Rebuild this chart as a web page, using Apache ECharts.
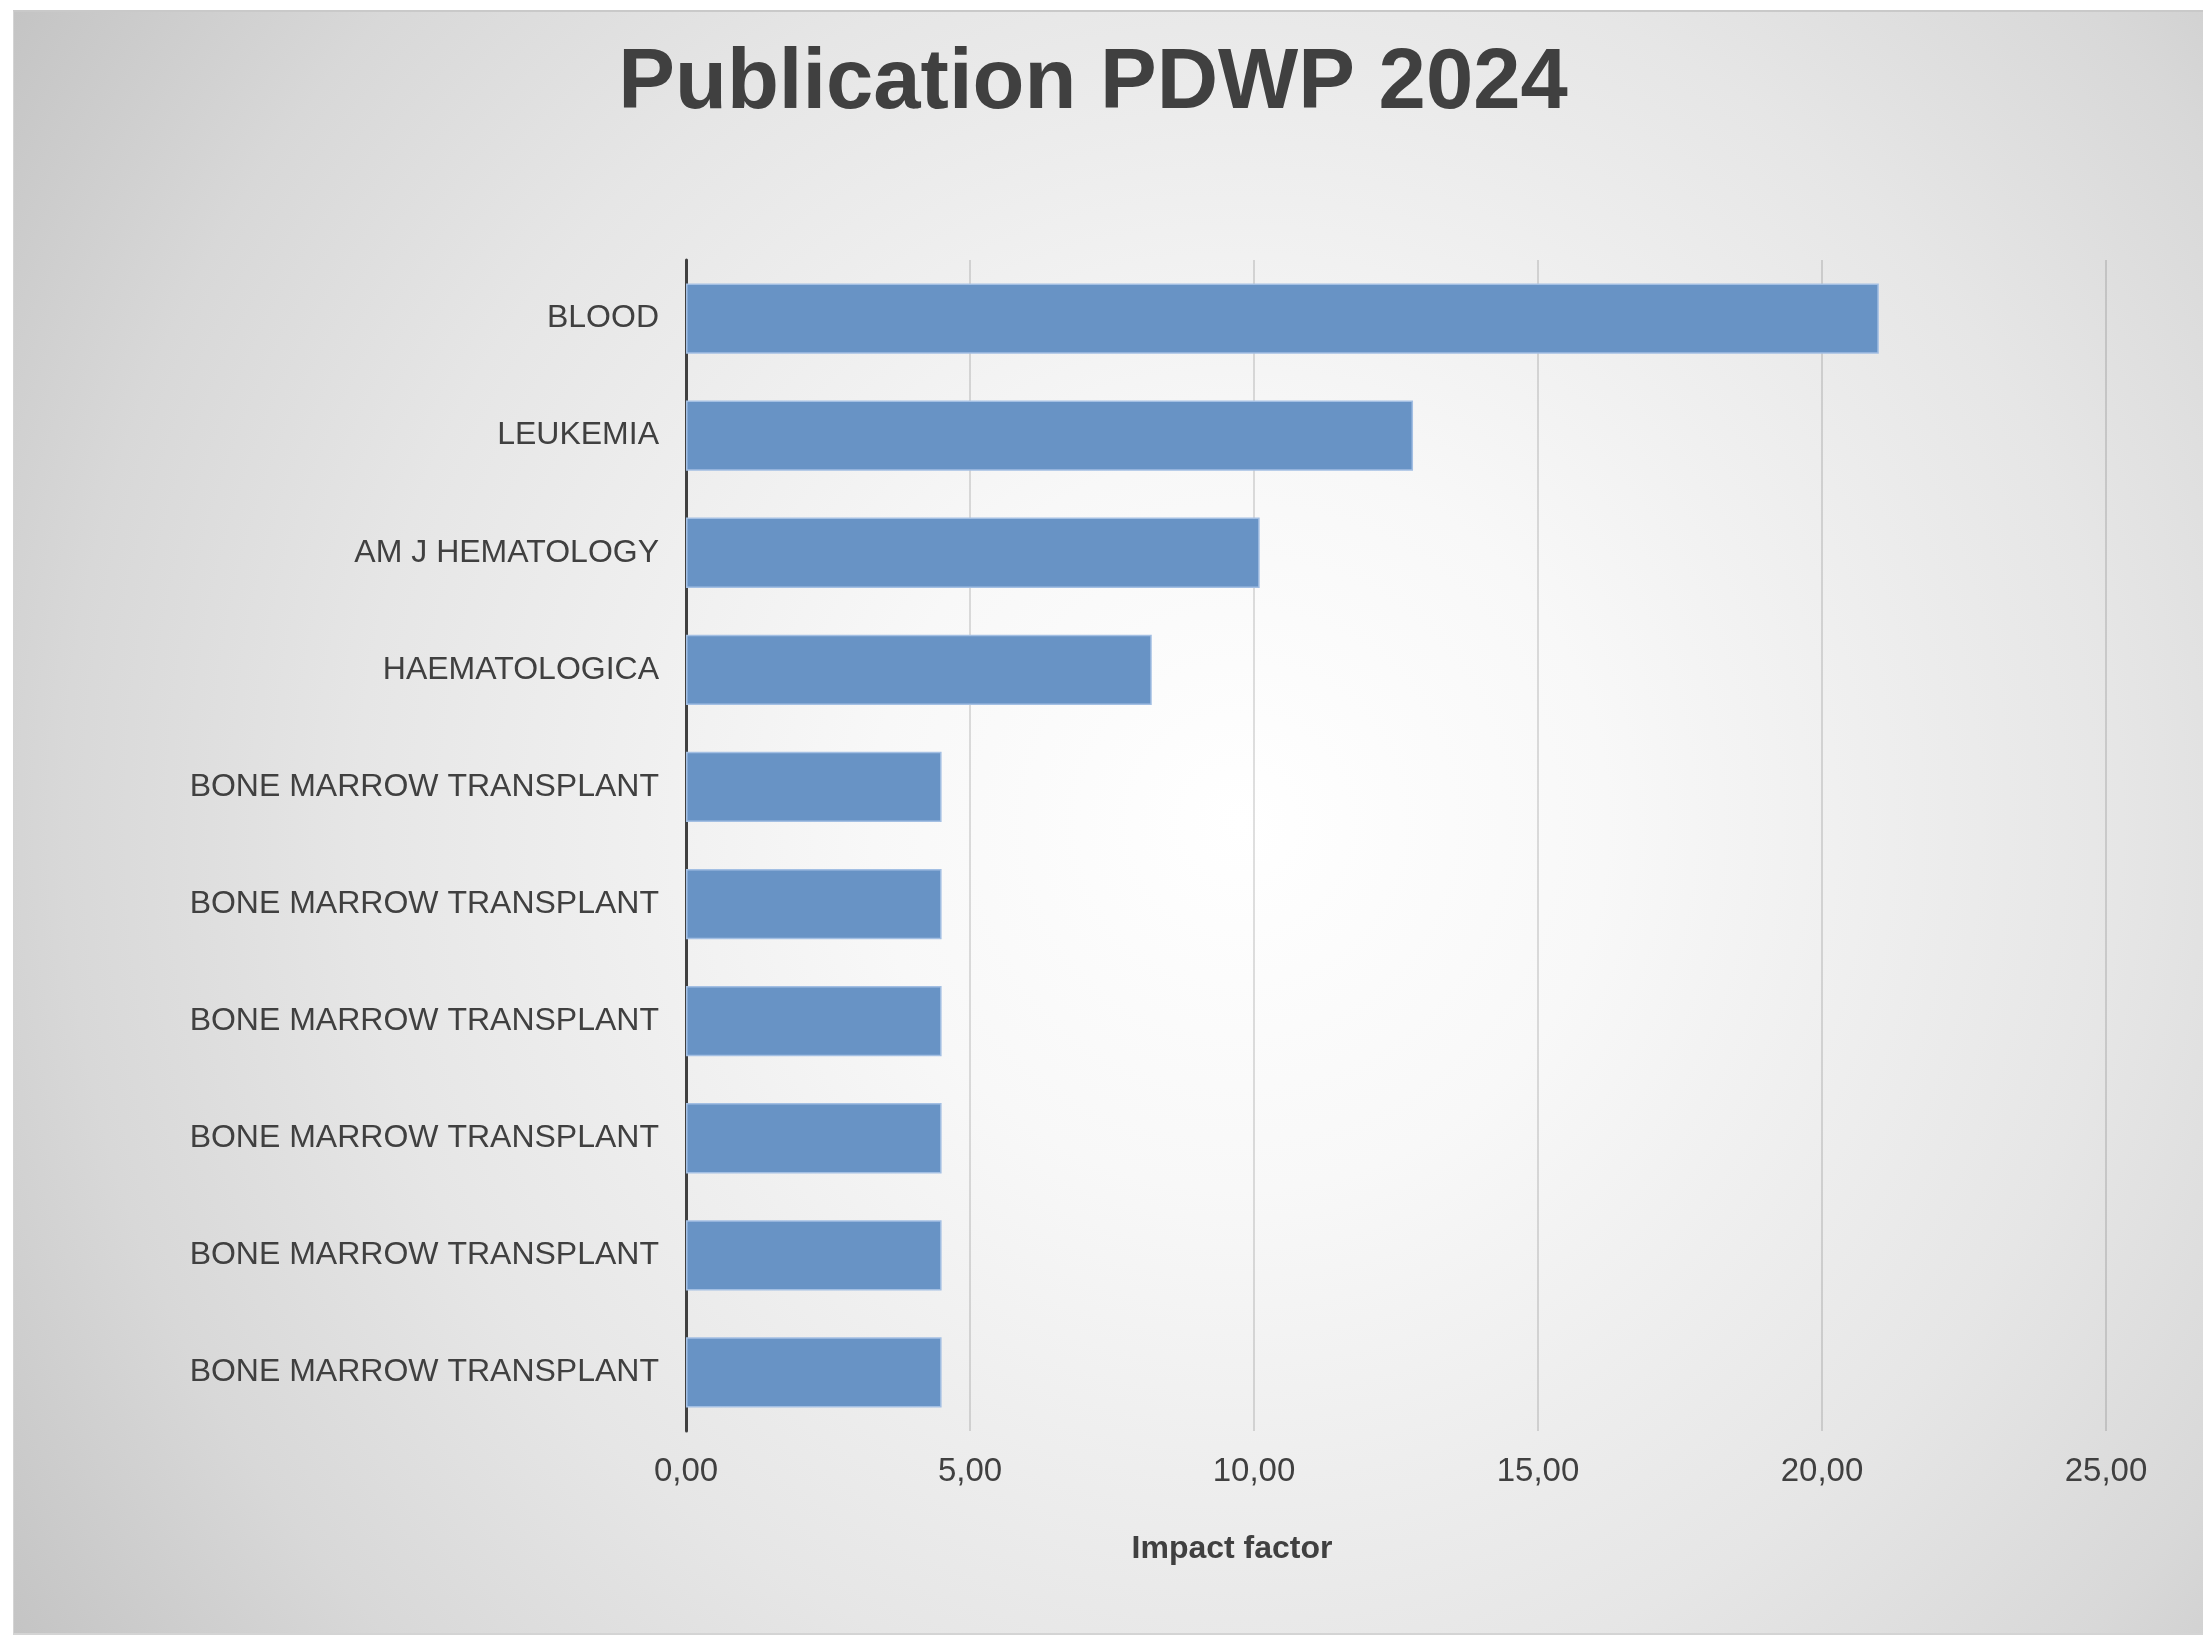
<!DOCTYPE html>
<html>
<head>
<meta charset="utf-8">
<script src="https://cdn.jsdelivr.net/npm/echarts@6/dist/echarts.min.js"></script>
<style>
    html, body { margin: 0; padding: 0; background: #fff; }
    #frame {
        position: absolute; left: 13px; top: 10px; width: 2190px; height: 1625px;
        box-sizing: border-box; border-top: 2px solid #c9c9c9; border-left: 1px solid #d4d4d4; border-bottom: 2px solid #d4d4d4;
        background: radial-gradient(circle farthest-corner at 56% 50%, #ffffff 0%, #f8f8f8 25%, #e6e6e6 60%, #d8d8d8 80%, #c4c4c4 100%);
    }
    #chart { position: absolute; left: 0; top: 0; width: 2203px; height: 1640px; }
</style>
</head>
<body>
<div id="frame"></div>
<div id="chart"></div>
<script>
const titleText = "Publication PDWP 2024";
const axisTitle = "Impact factor";
const journals = [
    "BLOOD",
    "LEUKEMIA",
    "AM J HEMATOLOGY",
    "HAEMATOLOGICA",
    "BONE MARROW TRANSPLANT",
    "BONE MARROW TRANSPLANT",
    "BONE MARROW TRANSPLANT",
    "BONE MARROW TRANSPLANT",
    "BONE MARROW TRANSPLANT",
    "BONE MARROW TRANSPLANT"
];
const impactFactor = [21.0, 12.8, 10.1, 8.2, 4.5, 4.5, 4.5, 4.5, 4.5, 4.5];
const xTicks = { min: 0, max: 25, step: 5 };

const font = '"Liberation Sans", Arial, sans-serif';
const textColor = "#404040";

let chart = echarts.init(document.getElementById("chart"), null, { renderer: "canvas" });
chart.setOption({
    backgroundColor: "transparent",
    animation: false,
    title: [
        {
            text: titleText,
            left: 1088, top: 37, textAlign: "center",
            textStyle: { fontFamily: font, fontSize: 85, fontWeight: "bold", color: textColor }
        },
        {
            text: axisTitle,
            left: 1227, top: 1528, textAlign: "center",
            textStyle: { fontFamily: font, fontSize: 32, fontWeight: "bold", color: textColor }
        }
    ],
    grid: { left: 686, right: 97, top: 260, bottom: 209, containLabel: false },
    xAxis: {
        type: "value",
        min: xTicks.min, max: xTicks.max, interval: xTicks.step,
        axisLine: { show: false },
        axisTick: { show: false },
        axisLabel: {
            margin: 24, fontFamily: font, fontSize: 33, color: textColor,
            formatter: v => v.toFixed(2).replace(".", ",")
        },
        splitLine: { show: true, lineStyle: { color: "rgba(0,0,0,0.17)", width: 1.5 } }
    },
    yAxis: {
        type: "category",
        inverse: true,
        data: journals,
        axisLine: { show: true, lineStyle: { color: textColor, width: 3 } },
        axisTick: { show: false },
        axisLabel: { interval: 0, margin: 27, fontFamily: font, fontSize: 32, color: textColor },
        splitLine: { show: false }
    },
    series: [
        {
            type: "bar",
            data: impactFactor,
            barCategoryGap: "40%",
            itemStyle: { color: "#6893c5", borderColor: "#a3bfe3", borderWidth: 1.5 }
        }
    ]
});
</script>
</body>
</html>
